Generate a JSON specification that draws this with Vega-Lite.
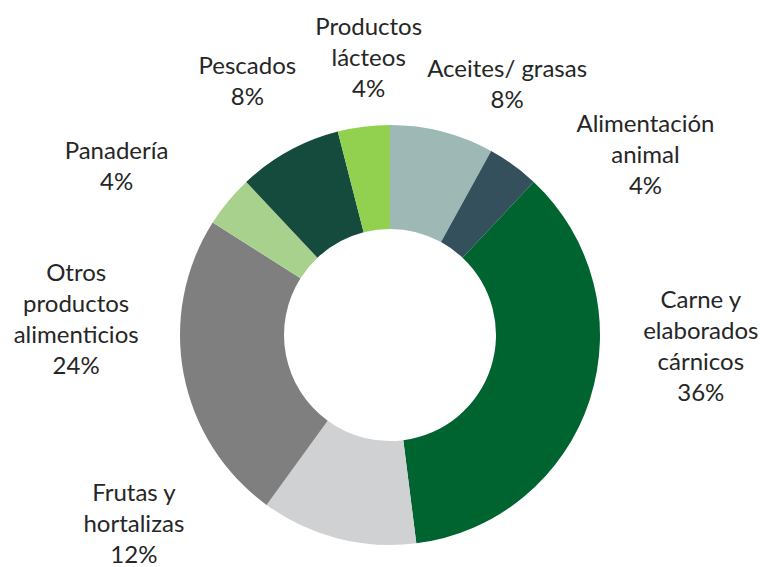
{
  "$schema": "https://vega.github.io/schema/vega-lite/v6.json",
  "autosize": {"type": "none"},
  "width": 752,
  "height": 462,
  "padding": {"left": 14, "top": 104, "right": 0, "bottom": 1},
  "background": "white",
  "view": {"stroke": null},
  "data": {
    "values": [
      {"cat": "Aceites/ grasas", "label": "Aceites/ grasas\n8%", "value": 8},
      {"cat": "Alimentación animal", "label": "Alimentación\nanimal\n4%", "value": 4},
      {"cat": "Carne y elaborados cárnicos", "label": "Carne y\nelaborados\ncárnicos\n36%", "value": 36},
      {"cat": "Frutas y hortalizas", "label": "Frutas y\nhortalizas\n12%", "value": 12},
      {"cat": "Otros productos alimenticios", "label": "Otros\nproductos\nalimenticios\n24%", "value": 24},
      {"cat": "Panadería", "label": "Panadería\n4%", "value": 4},
      {"cat": "Pescados", "label": "Pescados\n8%", "value": 8},
      {"cat": "Productos lácteos", "label": "Productos\nlácteos\n4%", "value": 4}
    ]
  },
  "layer": [
    {
      "mark": {"type": "arc", "outerRadius": 210, "innerRadius": 106},
      "encoding": {
        "theta": {"field": "value", "type": "quantitative", "stack": true},
        "order": {"field": "cat", "sort": "ascending"},
        "color": {
          "field": "cat",
          "type": "nominal",
          "legend": null,
          "scale": {
            "domain": ["Aceites/ grasas", "Alimentación animal", "Carne y elaborados cárnicos", "Frutas y hortalizas", "Otros productos alimenticios", "Panadería", "Pescados", "Productos lácteos"],
            "range": ["#9db8b5", "#34505c", "#006430", "#d0d1d3", "#7f7f80", "#a9d18e", "#144b3c", "#92d050"]
          }
        }
      }
    },
    {
      "mark": {"type": "text", "radius": 290, "dx": 45, "dy": 16, "lineBreak": "\n", "lineHeight": 31, "font": "Lato", "fontSize": 24, "color": "#262626", "align": "center", "baseline": "middle"},
      "encoding": {"theta": {"field": "value", "type": "quantitative", "stack": true}, "order": {"field": "cat", "sort": "ascending"}, "detail": {"field": "cat"}, "text": {"condition": {"test": "datum.cat == 'Aceites/ grasas'", "field": "label"}, "value": ""}}
    },
    {
      "mark": {"type": "text", "radius": 290, "dx": 85, "dy": 25, "lineBreak": "\n", "lineHeight": 31, "font": "Lato", "fontSize": 24, "color": "#262626", "align": "center", "baseline": "middle"},
      "encoding": {"theta": {"field": "value", "type": "quantitative", "stack": true}, "order": {"field": "cat", "sort": "ascending"}, "detail": {"field": "cat"}, "text": {"condition": {"test": "datum.cat == 'Alimentación animal'", "field": "label"}, "value": ""}}
    },
    {
      "mark": {"type": "text", "radius": 290, "dx": 35, "dy": -124, "lineBreak": "\n", "lineHeight": 31, "font": "Lato", "fontSize": 24, "color": "#262626", "align": "center", "baseline": "middle"},
      "encoding": {"theta": {"field": "value", "type": "quantitative", "stack": true}, "order": {"field": "cat", "sort": "ascending"}, "detail": {"field": "cat"}, "text": {"condition": {"test": "datum.cat == 'Carne y elaborados cárnicos'", "field": "label"}, "value": ""}}
    },
    {
      "mark": {"type": "text", "radius": 290, "dx": -184, "dy": -122, "lineBreak": "\n", "lineHeight": 31, "font": "Lato", "fontSize": 24, "color": "#262626", "align": "center", "baseline": "middle"},
      "encoding": {"theta": {"field": "value", "type": "quantitative", "stack": true}, "order": {"field": "cat", "sort": "ascending"}, "detail": {"field": "cat"}, "text": {"condition": {"test": "datum.cat == 'Frutas y hortalizas'", "field": "label"}, "value": ""}}
    },
    {
      "mark": {"type": "text", "radius": 290, "dx": -29, "dy": -115, "lineBreak": "\n", "lineHeight": 31, "font": "Lato", "fontSize": 24, "color": "#262626", "align": "center", "baseline": "middle"},
      "encoding": {"theta": {"field": "value", "type": "quantitative", "stack": true}, "order": {"field": "cat", "sort": "ascending"}, "detail": {"field": "cat"}, "text": {"condition": {"test": "datum.cat == 'Otros productos alimenticios'", "field": "label"}, "value": ""}}
    },
    {
      "mark": {"type": "text", "radius": 290, "dx": -50, "dy": 2, "lineBreak": "\n", "lineHeight": 31, "font": "Lato", "fontSize": 24, "color": "#262626", "align": "center", "baseline": "middle"},
      "encoding": {"theta": {"field": "value", "type": "quantitative", "stack": true}, "order": {"field": "cat", "sort": "ascending"}, "detail": {"field": "cat"}, "text": {"condition": {"test": "datum.cat == 'Panadería'", "field": "label"}, "value": ""}}
    },
    {
      "mark": {"type": "text", "radius": 290, "dx": -3, "dy": -14, "lineBreak": "\n", "lineHeight": 31, "font": "Lato", "fontSize": 24, "color": "#262626", "align": "center", "baseline": "middle"},
      "encoding": {"theta": {"field": "value", "type": "quantitative", "stack": true}, "order": {"field": "cat", "sort": "ascending"}, "detail": {"field": "cat"}, "text": {"condition": {"test": "datum.cat == 'Pescados'", "field": "label"}, "value": ""}}
    },
    {
      "mark": {"type": "text", "radius": 290, "dx": 15, "dy": -19, "lineBreak": "\n", "lineHeight": 31, "font": "Lato", "fontSize": 24, "color": "#262626", "align": "center", "baseline": "middle"},
      "encoding": {"theta": {"field": "value", "type": "quantitative", "stack": true}, "order": {"field": "cat", "sort": "ascending"}, "detail": {"field": "cat"}, "text": {"condition": {"test": "datum.cat == 'Productos lácteos'", "field": "label"}, "value": ""}}
    }
  ]
}
